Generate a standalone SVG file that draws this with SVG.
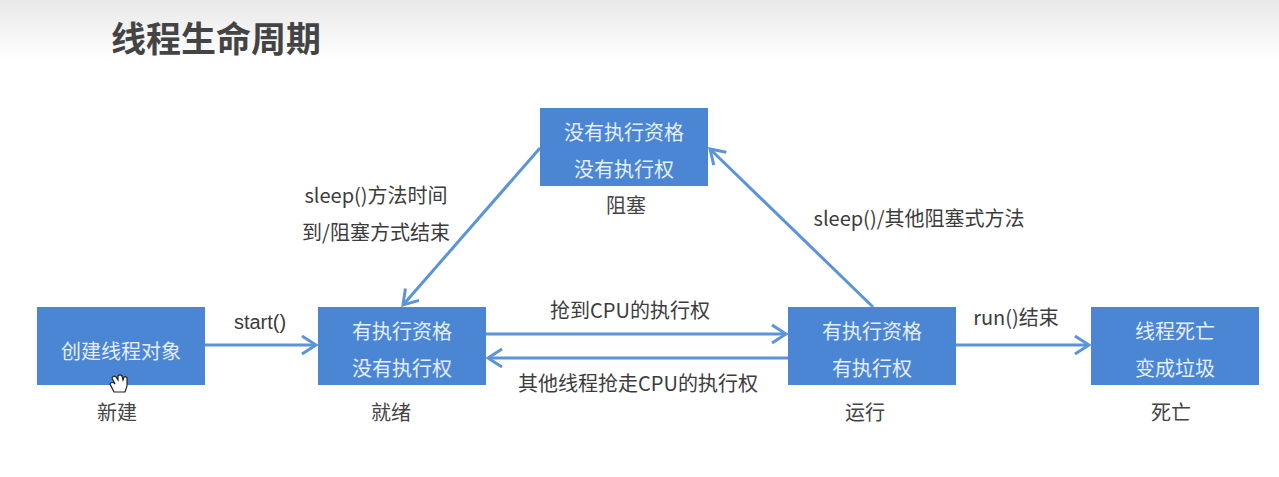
<svg xmlns="http://www.w3.org/2000/svg" width="1279" height="477" viewBox="0 0 1279 477">
<style>
text{font-family:"Liberation Sans","Noto Sans CJK SC",sans-serif;font-size:20px;fill:#3c3c3c;text-anchor:middle}
.cjk{font-family:"Noto Sans CJK SC",sans-serif}
.box{fill:#4a86d4}
.in{fill:#e6eefa;font-family:"Noto Sans CJK SC",sans-serif}
.cap{font-family:"Noto Sans CJK SC",sans-serif;fill:#444}
.c{fill:none;stroke:#5b94d8;stroke-width:3;marker-end:url(#a)}
</style>
<defs>
<linearGradient id="g" x1="0" y1="0" x2="0" y2="1"><stop offset="0" stop-color="#e8e8e8"/><stop offset="1" stop-color="#ffffff"/></linearGradient>
<marker id="a" markerUnits="userSpaceOnUse" markerWidth="18" markerHeight="22" refX="15" refY="11" orient="auto"><path d="M1 2L15 11L1 20" fill="none" stroke="#5b94d8" stroke-width="3"/></marker>
</defs>
<rect width="1279" height="477" fill="#fff"/>
<rect width="1279" height="60" fill="url(#g)"/>
<text x="216" y="52" style="font-size:35px;font-weight:700;fill:#444" class="cjk">线程生命周期</text>
<g id="connectors">
<path class="c" d="M205 345H316"/>
<path class="c" d="M486 334H786"/>
<path class="c" d="M788 358H488"/>
<path class="c" d="M956 345H1089"/>
<path class="c" d="M540 148L403 305"/>
<path class="c" d="M873 307L710 149"/>
</g>
<g id="labels" class="cjk">
<text x="260" y="329">start()</text>
<text x="630" y="318" class="cap" style="fill:#3c3c3c">抢到CPU的执行权</text>
<text x="638" y="391" class="cap" style="fill:#3c3c3c">其他线程抢走CPU的执行权</text>
<text x="1016" y="325" class="cap" style="fill:#3c3c3c">run()结束</text>
<text x="376" y="203" class="cap" style="fill:#3c3c3c">sleep()方法时间</text>
<text x="376" y="240" class="cap" style="fill:#3c3c3c">到/阻塞方式结束</text>
<text x="919" y="226" class="cap" style="fill:#3c3c3c">sleep()/其他阻塞式方法</text>
</g>
<g id="new"><rect class="box" x="37" y="307" width="168" height="78"/><text class="in" x="121" y="359">创建线程对象</text><text class="cap" x="117" y="420">新建</text></g>
<g id="ready"><rect class="box" x="318" y="307" width="168" height="78"/><text class="in" x="402" y="339">有执行资格</text><text class="in" x="402" y="376">没有执行权</text><text class="cap" x="391" y="420">就绪</text></g>
<g id="blocked"><rect class="box" x="540" y="108" width="168" height="78"/><text class="in" x="624" y="140">没有执行资格</text><text class="in" x="624" y="177">没有执行权</text><text class="cap" x="626" y="213">阻塞</text></g>
<g id="running"><rect class="box" x="788" y="307" width="168" height="78"/><text class="in" x="872" y="339">有执行资格</text><text class="in" x="872" y="376">有执行权</text><text class="cap" x="865" y="420">运行</text></g>
<g id="dead"><rect class="box" x="1091" y="307" width="168" height="78"/><text class="in" x="1175" y="339">线程死亡</text><text class="in" x="1175" y="376">变成垃圾</text><text class="cap" x="1171" y="420">死亡</text></g>
<path d="M114 392L110 384Q112 381 115 384L112 378Q113 375 116 377L118 380L118 376Q120 374 122 376L123 380L124 377Q126 376 127 378L127 386L125 392Z" fill="#fff" stroke="#222" stroke-width="1.2"/>
</svg>
